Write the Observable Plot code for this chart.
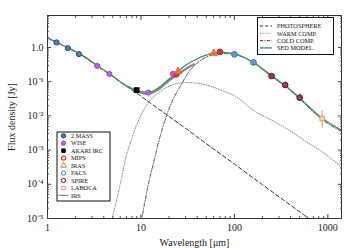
<!DOCTYPE html>
<html><head><meta charset="utf-8">
<script src="https://cdn.jsdelivr.net/npm/d3@7"></script>
<script src="https://cdn.jsdelivr.net/npm/@observablehq/plot@0.6"></script>
<style>body{margin:0;background:#fff}</style>
</head><body><div id="chart"></div>
<script>
// ---- model curves ----
const photoLam  = [1, 1.25, 1.67, 2.2, 3.4, 4.6, 6, 9, 15, 25, 50, 100, 200, 560, 700];
const photoFlux = [1.88, 1.42, 0.96, 0.64, 0.29, 0.165, 0.098, 0.046, 0.0168, 0.0062, 0.00155, 0.00039, 0.000097, 0.0000125, 0.000008];
const warmLam  = [4.8, 5.5, 6, 7, 8, 9, 10, 12, 15, 20, 25, 31, 40, 50, 70, 107, 160, 250, 370, 600, 840, 1400];
const warmFlux = [0.000008, 0.000035, 0.0001, 0.0007, 0.0022, 0.0055, 0.0105, 0.024, 0.045, 0.074, 0.089, 0.094, 0.09, 0.08, 0.058, 0.035, 0.0145, 0.0075, 0.0041, 0.0017, 0.00095, 0.00032];
const coldLam  = [10.1, 11, 12, 13.7, 15.6, 19, 22, 26.5, 32, 43, 55, 70, 85, 100, 130, 160, 250, 350, 500, 870, 1400];
const coldFlux = [0.000008, 0.00003, 0.0001, 0.00045, 0.0019, 0.011, 0.03, 0.075, 0.18, 0.41, 0.58, 0.66, 0.66, 0.62, 0.49, 0.355, 0.14, 0.073, 0.031, 0.0078, 0.0035];
const sedLam  = [1, 1.25, 1.67, 2.2, 3.4, 4.6, 6, 8, 10, 12, 15, 20, 25, 30, 40, 50, 60, 75, 100, 130, 160, 250, 350, 500, 870, 1400];
const sedFlux = [1.9, 1.42, 0.97, 0.66, 0.30, 0.17, 0.10, 0.063, 0.050, 0.049, 0.063, 0.12, 0.2, 0.30, 0.47, 0.60, 0.68, 0.72, 0.65, 0.50, 0.37, 0.15, 0.077, 0.033, 0.0085, 0.0038];
const irsLam  = [7.5, 8, 9, 10, 11, 12, 13, 15, 17, 20, 24, 28, 33, 37];
const irsFlux = [0.068, 0.061, 0.054, 0.048, 0.045, 0.045, 0.047, 0.057, 0.074, 0.108, 0.152, 0.205, 0.275, 0.325];

// ---- photometry ----
const massLam = [1.25, 1.65, 2.17];     const massFlux = [1.40, 0.96, 0.64];
const wiseLam = [3.4, 4.6, 12, 22];     const wiseFlux = [0.29, 0.168, 0.048, 0.168];
const akariLam = [9];                   const akariFlux = [0.057];
const mipsLam = [24, 70];               const mipsFlux = [0.16, 0.74];
const irasLam = [25, 60];               const irasFlux = [0.20, 0.67];
const irasLo = [0.15, 0.64];            const irasHi = [0.26, 0.70];
const pacsLam = [70, 100, 160];         const pacsFlux = [0.74, 0.63, 0.365];
const spireLam = [250, 350, 500];       const spireFlux = [0.146, 0.08, 0.034];
const spireLo = [0.136, 0.073, 0.027];  const spireHi = [0.157, 0.088, 0.043];
const labocaLam = [870];                const labocaFlux = [0.0084];
const labocaLo = [0.0042];              const labocaHi = [0.0142];

// ---- ticks ----
const xMajor = [1, 10, 100, 1000];
const xTickLabels = ["1", "10", "100", "1000"];
const yMajor = [1e-5, 1e-4, 1e-3, 1e-2, 1e-1, 1];
const yTickLabels = ["10\u207B\u2075", "10\u207B\u2074", "10\u207B\u00B3", "10\u207B\u00B2", "10\u207B\u00B9", "1.0"];
const mult = [2, 3, 4, 5, 6, 7, 8, 9];
const xMinor = [1, 10, 100, 1000].flatMap(d => mult.map(m => d * m)).filter(v => v < 1400);
const yMinor = [1e-5, 1e-4, 1e-3, 1e-2, 1e-1, 1].flatMap(d => mult.map(m => d * m)).filter(v => v < 8.6);

const pts = (lam, f) => lam.map((l, i) => ({lam: l, f: f[i]}));
const errs = (lam, lo, hi) => lam.map((l, i) => ({lam: l, lo: lo[i], hi: hi[i]}));

const font = "Liberation Serif";
const plot = Plot.plot({
  width: 354, height: 248,
  marginLeft: 47, marginRight: 13, marginTop: 15, marginBottom: 30,
  style: {fontFamily: font, fontSize: "10px", background: "#fff", color: "#222"},
  x: {type: "log", domain: [1, 1400]},
  y: {type: "log", domain: [1e-5, 8.6]},
  marks: [
    Plot.line(pts(photoLam, photoFlux), {x: "lam", y: "f", stroke: "#333", strokeWidth: 1, strokeDasharray: "4,2.6", clip: true, curve: "monotone-x"}),
    Plot.line(pts(warmLam, warmFlux), {x: "lam", y: "f", stroke: "#888", strokeWidth: 1, strokeDasharray: "1,1.6", clip: true, curve: "monotone-x"}),
    Plot.line(pts(coldLam, coldFlux), {x: "lam", y: "f", stroke: "#555", strokeWidth: 1, strokeDasharray: "3.5,1.6,1,1.6", clip: true, curve: "monotone-x"}),
    Plot.line(pts(irsLam, irsFlux), {x: "lam", y: "f", stroke: "#888", strokeWidth: 2.2, curve: "monotone-x"}),
    Plot.line(pts(sedLam, sedFlux), {x: "lam", y: "f", stroke: "#3a9158", strokeWidth: 1.2, clip: true, curve: "monotone-x"}),
    Plot.ruleX(errs(irasLam, irasLo, irasHi), {x: "lam", y1: "lo", y2: "hi", stroke: "#ef7a25", strokeWidth: 1}),
    Plot.ruleX(errs(spireLam, spireLo, spireHi), {x: "lam", y1: "lo", y2: "hi", stroke: "#6e1020", strokeWidth: 1}),
    Plot.ruleX(errs(labocaLam, labocaLo, labocaHi), {x: "lam", y1: "lo", y2: "hi", stroke: "#f49060", strokeWidth: 1}),
    Plot.dot(pts(massLam, massFlux), {x: "lam", y: "f", r: 2.6, fill: "#4a80c0", stroke: "#1f3c70", strokeWidth: 0.9}),
    Plot.dot(pts(wiseLam, wiseFlux), {x: "lam", y: "f", r: 2.6, fill: "#b363ea", stroke: "#9a40dd", strokeWidth: 0.9}),
    Plot.dot(pts(akariLam, akariFlux), {x: "lam", y: "f", symbol: "square", r: 2.4, fill: "#000", stroke: "#000"}),
    Plot.dot(pts(pacsLam, pacsFlux), {x: "lam", y: "f", r: 2.9, fill: "#5a9bd8", stroke: "#3070b5", strokeWidth: 0.9}),
    Plot.dot(pts(mipsLam, mipsFlux), {x: "lam", y: "f", r: 2.5, fill: "#ff2a2a", stroke: "#e01010", strokeWidth: 0.8}),
    Plot.dot(pts(irasLam, irasFlux), {x: "lam", y: "f", symbol: "triangle", r: 2.8, fill: "#ef7a25", stroke: "#e06a15", strokeWidth: 0.8}),
    Plot.dot(pts(spireLam, spireFlux), {x: "lam", y: "f", r: 2.8, fill: "#a0404e", stroke: "#5e0c1a", strokeWidth: 1}),
    Plot.dot(pts(labocaLam, labocaFlux), {x: "lam", y: "f", symbol: "square", r: 2.6, fill: "#fcd6c2", stroke: "#f49060", strokeWidth: 1}),
    Plot.frame({stroke: "#333", strokeWidth: 1}),
    Plot.axisX(xMajor, {anchor: "bottom", tickSize: 0, tickPadding: 5, tickFormat: d => xTickLabels[xMajor.indexOf(d)], label: "Wavelength [\u03BCm]", labelAnchor: "center", labelArrow: "none", labelOffset: 27, fontSize: 10}),
    Plot.axisX(xMajor, {anchor: "bottom", tickSize: -4, fill: "none", stroke: "#444"}),
    Plot.axisX(xMinor, {anchor: "bottom", tickSize: -2, fill: "none", stroke: "#555"}),
    Plot.axisX(xMajor, {anchor: "top", tickSize: -4, fill: "none", stroke: "#444"}),
    Plot.axisX(xMinor, {anchor: "top", tickSize: -2, fill: "none", stroke: "#555"}),
    Plot.axisY(yMajor, {anchor: "left", tickSize: 0, tickPadding: 4, tickFormat: d => yTickLabels[yMajor.indexOf(d)], label: "Flux density [Jy]", labelAnchor: "center", labelArrow: "none", labelOffset: 40, fontSize: 10}),
    Plot.axisY(yMajor, {anchor: "left", tickSize: -4, fill: "none", stroke: "#444"}),
    Plot.axisY(yMinor, {anchor: "left", tickSize: -2, fill: "none", stroke: "#555"}),
    Plot.axisY(yMajor, {anchor: "right", tickSize: -4, fill: "none", stroke: "#444"}),
    Plot.axisY(yMinor, {anchor: "right", tickSize: -2, fill: "none", stroke: "#555"})
  ]
});
document.getElementById("chart").appendChild(plot);

// ---- legends ----
const svg = d3.select(plot);
const lf = {"font-family": font, "font-size": "6.3px", fill: "#111", "text-anchor": "start"};
function applyAttrs(sel, a) { for (const k in a) sel.attr(k, a[k]); return sel; }

const modelNames = ["PHOTOSPHERE", "WARM COMP.", "COLD COMP.", "SED MODEL."];
const modelStyles = [
  {stroke: "#333", dash: "3,2.2", w: 1},
  {stroke: "#888", dash: "1,1.4", w: 1},
  {stroke: "#444", dash: "3,1.5,1,1.5", w: 1},
  {stroke: "#3a9158", dash: null, w: 1.3}
];
const g1 = svg.append("g");
g1.append("rect").attr("x", 257.5).attr("y", 17.5).attr("width", 76).attr("height", 37)
  .attr("fill", "#fff").attr("stroke", "#111").attr("stroke-width", 1);
modelNames.forEach((name, i) => {
  const y = 26 + i * 7.3;
  const st = modelStyles[i];
  const ln = g1.append("line").attr("x1", 260).attr("x2", 272).attr("y1", y).attr("y2", y)
    .attr("stroke", st.stroke).attr("stroke-width", st.w);
  if (st.dash) ln.attr("stroke-dasharray", st.dash);
  applyAttrs(g1.append("text").attr("x", 277).attr("y", y).attr("dy", "0.35em").text(name), lf);
});

const instNames = ["2 MASS", "WISE", "AKARI IRC", "MIPS", "IRAS", "PACS", "SPIRE", "LABOCA", "IRS"];
const instStyles = [
  {sym: d3.symbolCircle, s: 14, fill: "#4a80c0", stroke: "#1f3c70"},
  {sym: d3.symbolCircle, s: 14, fill: "#b363ea", stroke: "#9a40dd"},
  {sym: d3.symbolSquare, s: 12, fill: "#000", stroke: "#000"},
  {sym: d3.symbolCircle, s: 14, fill: "#ffd0d0", stroke: "#e01010"},
  {sym: d3.symbolTriangle, s: 14, fill: "#fff", stroke: "#ef7a25"},
  {sym: d3.symbolCircle, s: 14, fill: "#fff", stroke: "#3a80c8"},
  {sym: d3.symbolCircle, s: 14, fill: "#fff", stroke: "#6e1020"},
  {sym: d3.symbolSquare, s: 12, fill: "#fff", stroke: "#f49060"},
  null
];
const g2 = svg.append("g");
g2.append("rect").attr("x", 57).attr("y", 132).attr("width", 53).attr("height", 69)
  .attr("fill", "#fff").attr("stroke", "#111").attr("stroke-width", 1);
instNames.forEach((name, i) => {
  const y = 135.8 + i * 7.45;
  const st = instStyles[i];
  if (st) {
    g2.append("path").attr("d", d3.symbol(st.sym, st.s)()).attr("transform", `translate(63.5,${y})`)
      .attr("fill", st.fill).attr("stroke", st.stroke).attr("stroke-width", 1);
  } else {
    g2.append("line").attr("x1", 58.5).attr("x2", 68.5).attr("y1", y).attr("y2", y)
      .attr("stroke", "#888").attr("stroke-width", 1.2);
  }
  applyAttrs(g2.append("text").attr("x", 71).attr("y", y).attr("dy", "0.35em").text(name), lf);
});
</script>
</body></html>
